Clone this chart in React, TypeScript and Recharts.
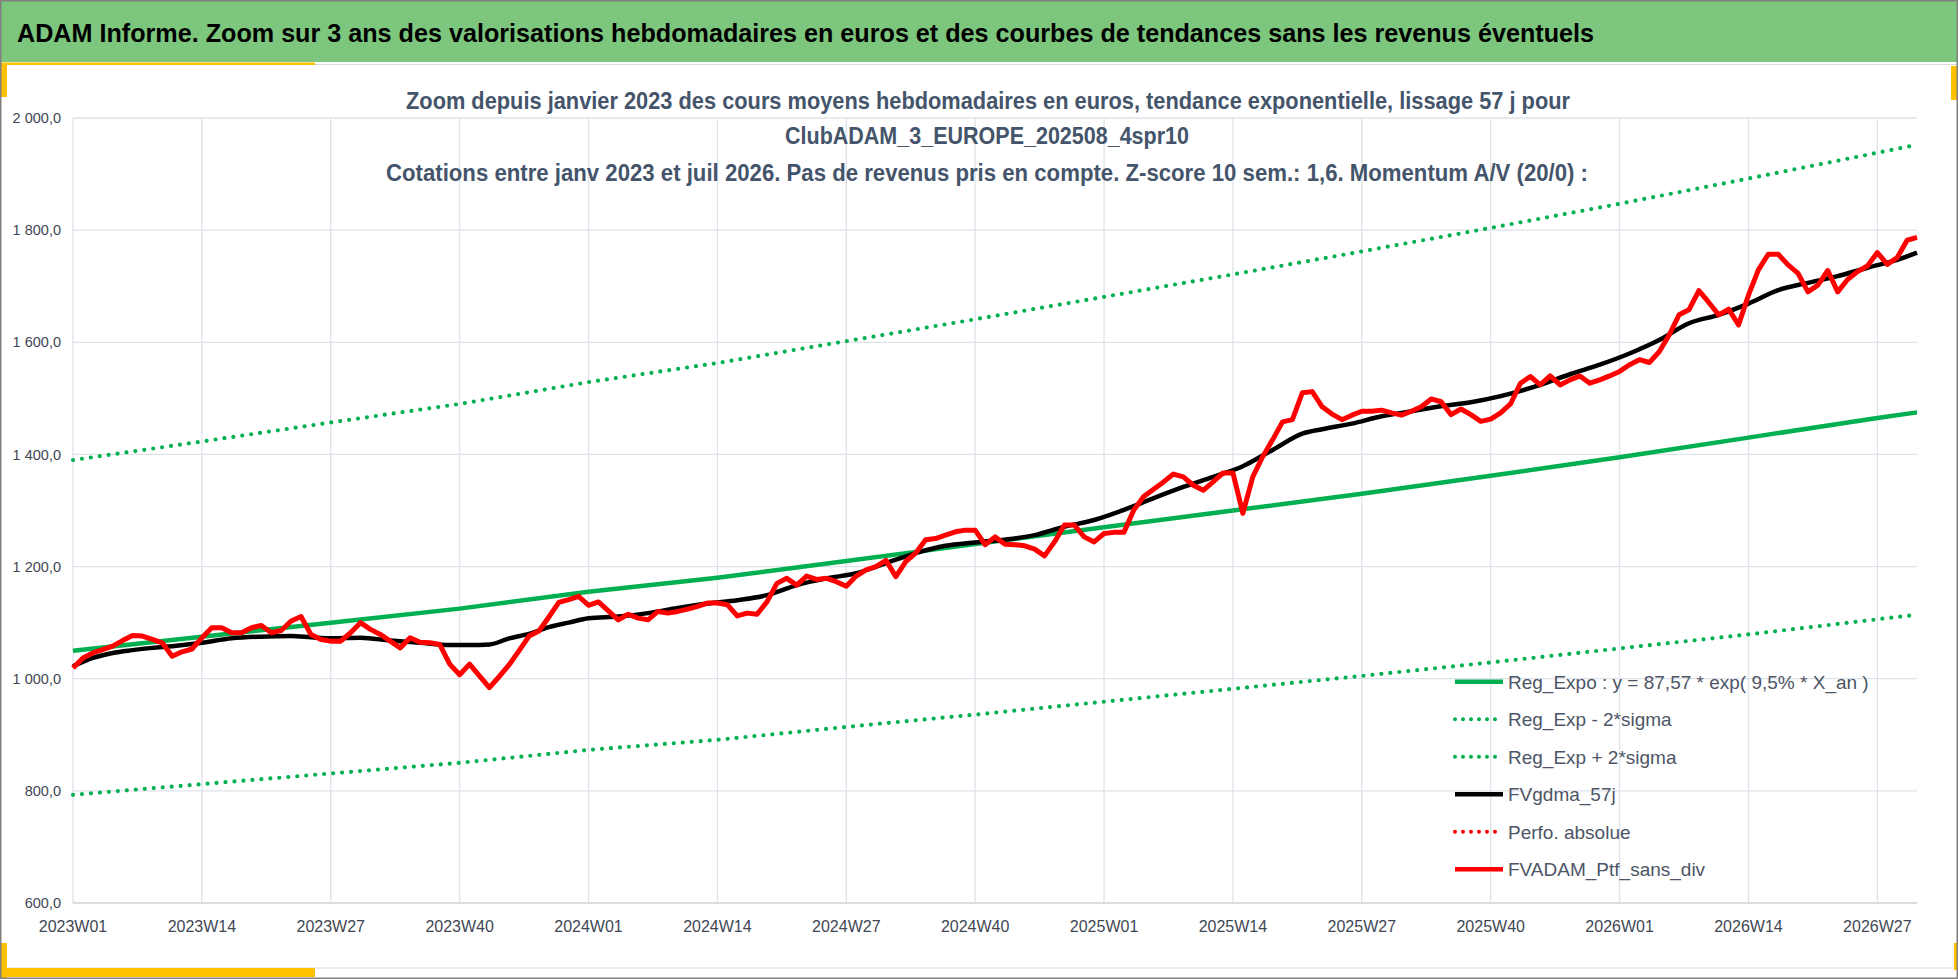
import React from "react";
import { LineChart, Line, XAxis, YAxis, CartesianGrid, Legend } from "recharts";

// ---------- categories ----------
const START_YEAR = 2023;
const WEEKS_PER_YEAR = 52;
const N_WEEKS = 187; // 2023W01 .. 2026W31
const weeks: string[] = Array.from({ length: N_WEEKS }, (_, i) =>
  `${START_YEAR + Math.floor(i / WEEKS_PER_YEAR)}W${String((i % WEEKS_PER_YEAR) + 1).padStart(2, "0")}`
);

const yTicks = [600, 800, 1000, 1200, 1400, 1600, 1800, 2000];

// ---------- series ----------
// FVADAM_Ptf_sans_div : weekly values
const fvadamPtfSansDiv: number[] = [
  1019, 1037, 1046, 1052, 1058, 1068, 1077, 1076, 1070, 1064,
  1040, 1048, 1053, 1073, 1091, 1091, 1082, 1082, 1091, 1095,
  1082, 1086, 1103, 1111, 1079, 1070, 1067, 1067, 1082, 1100,
  1088, 1079, 1067, 1055, 1073, 1065, 1064, 1061, 1026, 1007,
  1026, 1005, 984, 1004, 1025, 1050, 1076, 1085, 1110, 1136,
  1141, 1147, 1131, 1137, 1121, 1105, 1115, 1108, 1105, 1120,
  1117, 1120, 1124, 1129, 1135, 1135, 1132, 1112, 1117, 1115,
  1137, 1170, 1179, 1167, 1183, 1177, 1179, 1173, 1165, 1183,
  1194, 1200, 1211, 1182, 1209, 1224, 1248, 1250, 1256, 1262,
  1265, 1265, 1239, 1253, 1240, 1239, 1237, 1231, 1219, 1244,
  1274, 1274, 1253, 1244, 1259, 1261, 1261, 1301, 1325, 1338,
  1351, 1365, 1360, 1345, 1336, 1351, 1367, 1367, 1295, 1360,
  1396, 1426, 1458, 1462, 1510, 1512, 1485, 1472, 1462, 1470,
  1477, 1477, 1479, 1474, 1470, 1477, 1485, 1499, 1494, 1471,
  1481, 1471, 1459, 1463, 1474, 1490, 1527, 1539, 1524, 1540,
  1524, 1533, 1540, 1527, 1533, 1540, 1548, 1560, 1569, 1564,
  1583, 1613, 1649, 1658, 1692, 1671, 1649, 1659, 1631, 1684,
  1729, 1757, 1757, 1738, 1723, 1690, 1702, 1728, 1690, 1712,
  1726, 1736, 1760, 1739, 1751, 1782, 1787,
];

// FVgdma_57j : [week index, value]
const fvgdma57j: [number, number][] = [
  [0, 1022], [2, 1037], [4, 1046], [6, 1051], [8, 1055], [10, 1058], [13, 1064],
  [16, 1072], [19, 1075], [22, 1076], [24, 1074], [26, 1072], [29, 1073], [32, 1068],
  [35, 1064], [38, 1060], [40, 1060], [42, 1061], [44, 1072], [46, 1080], [48, 1092],
  [50, 1100], [52, 1108], [55, 1111], [58, 1117], [61, 1126], [64, 1134], [67, 1140],
  [70, 1149], [73, 1167], [76, 1179], [79, 1188], [82, 1206], [85, 1224], [88, 1237],
  [91, 1243], [94, 1248], [97, 1256], [100, 1271], [103, 1283], [106, 1301], [109, 1322],
  [112, 1342], [115, 1360], [118, 1379], [121, 1408], [124, 1437], [126, 1445], [129, 1455],
  [132, 1468], [135, 1477], [138, 1486], [141, 1493], [144, 1504], [148, 1524], [151, 1543],
  [154, 1560], [157, 1580], [160, 1604], [163, 1634], [166, 1649], [169, 1669], [172, 1693],
  [175, 1706], [178, 1718], [181, 1733], [184, 1747], [186, 1760],
];

// Reg_Expo : [week index, value]
const regExpo: [number, number][] = [
  [0, 1050], [13, 1075], [26, 1100], [39, 1125], [52, 1155], [65, 1180], [78, 1210],
  [91, 1240], [104, 1270], [117, 1300], [130, 1330], [143, 1362], [156, 1395],
  [169, 1430], [182, 1465], [186, 1475],
];

// Reg_Exp - 2*sigma
const regExpMinus2Sigma: [number, number][] = [
  [0, 793], [13, 812], [26, 831], [39, 850], [52, 873], [65, 891], [78, 914],
  [91, 936], [104, 959], [117, 982], [130, 1005], [143, 1029], [156, 1054],
  [169, 1079], [182, 1106], [186, 1114],
];

// Reg_Exp + 2*sigma
const regExpPlus2Sigma: [number, number][] = [
  [0, 1390], [13, 1423], [26, 1457], [39, 1490], [52, 1529], [65, 1563], [78, 1602],
  [91, 1641], [104, 1681], [117, 1721], [130, 1762], [143, 1804], [156, 1847],
  [169, 1892], [182, 1938], [186, 1952],
];

// Perfo. absolue : no visible values in this window
const perfoAbsolue: [number, number][] = [];

// ---------- table ----------
const lookup = (pts: [number, number][]) => new Map(pts);
const mGdma = lookup(fvgdma57j);
const mReg = lookup(regExpo);
const mLow = lookup(regExpMinus2Sigma);
const mUp = lookup(regExpPlus2Sigma);
const mPerfo = lookup(perfoAbsolue);

const data = weeks.map((week, i) => ({
  week,
  regExpo: mReg.get(i) ?? null,
  low: mLow.get(i) ?? null,
  up: mUp.get(i) ?? null,
  gdma: mGdma.get(i) ?? null,
  perfo: mPerfo.get(i) ?? null,
  ptf: fvadamPtfSansDiv[i] ?? null,
}));

// ---------- styles ----------
const GREEN = "#00B050";
const RED = "#FF0000";
const GRID = "#DEE2E9";
const TEXT = "#44546A";
const TICK = "#3F4754";
const YELLOW = "#FFC000";

const legendOrder = ["regExpo", "low", "up", "gdma", "perfo", "ptf"];
const legendStyle: Record<string, { color: string; dotted: boolean }> = {
  regExpo: { color: GREEN, dotted: false },
  low: { color: GREEN, dotted: true },
  up: { color: GREEN, dotted: true },
  gdma: { color: "#000000", dotted: false },
  perfo: { color: RED, dotted: true },
  ptf: { color: RED, dotted: false },
};

const fmtY = (v: number) => {
  if (v >= 1000) {
    const th = Math.floor(v / 1000);
    const rest = String(v % 1000).padStart(3, "0");
    return `${th} ${rest},0`;
  }
  return `${v},0`;
};

const renderLegend = (props: any) => {
  const payload = [...(props.payload || [])].sort(
    (a: any, b: any) => legendOrder.indexOf(a.dataKey) - legendOrder.indexOf(b.dataKey)
  );
  return (
    <svg width={480} height={230} style={{ display: "block", overflow: "visible", position: "absolute", left: 0, top: 0 }}>
      {payload.map((p: any, k: number) => {
        const st = legendStyle[p.dataKey] || { color: p.color, dotted: false };
        const cy = 21.7 + k * 37.5;
        return (
          <g key={k}>
            <line
              x1={15}
              x2={63}
              y1={cy}
              y2={cy}
              stroke={st.color}
              strokeWidth={st.dotted ? 4 : 4.5}
              strokeDasharray={st.dotted ? "0 8" : undefined}
              strokeLinecap={st.dotted ? "round" : "butt"}
            />
            <text
              x={68}
              y={cy}
              dy="0.36em"
              fontSize={19}
              fill="#4D5566"
              fontFamily='"Liberation Sans", Arial, sans-serif'
            >
              {p.value}
            </text>
          </g>
        );
      })}
    </svg>
  );
};

export default function App() {
  return (
    <div
      style={{
        position: "absolute",
        left: 0,
        top: 0,
        width: 1958,
        height: 979,
        background: "#ffffff",
        overflow: "hidden",
        fontFamily: '"Liberation Sans", Arial, sans-serif',
      }}
    >
      <div style={{ position: "absolute", left: 0, top: 0 }}>
        <LineChart
          width={1958}
          height={979}
          data={data}
          margin={{ top: 118, right: 41, bottom: 36, left: 0 }}
        >
          <CartesianGrid stroke={GRID} strokeWidth={1.3} syncWithTicks />
          <XAxis
            dataKey="week"
            interval={12}
            height={40}
            tickLine={false}
            tickSize={6}
            tickMargin={12}
            axisLine={{ stroke: "#D9D9D9", strokeWidth: 1.5 }}
            tick={{ fill: TICK, fontSize: 16 }}
          />
          <YAxis
            domain={[600, 2000]}
            ticks={yTicks}
            width={73}
            axisLine={false}
            tickLine={false}
            tickMargin={6}
            tickFormatter={fmtY}
            tick={{ fill: TICK, fontSize: 14.5 }}
          />
          <Line
            dataKey="regExpo"
            name="Reg_Expo : y = 87,57 * exp( 9,5% *  X_an )"
            stroke={GREEN}
            strokeWidth={4.5}
            dot={false}
            connectNulls
            strokeLinejoin="round"
            isAnimationActive={false}
          />
          <Line
            dataKey="low"
            name="Reg_Exp - 2*sigma"
            stroke={GREEN}
            strokeWidth={4.2}
            strokeDasharray="0 9"
            strokeLinecap="round"
            dot={false}
            connectNulls
            isAnimationActive={false}
          />
          <Line
            dataKey="up"
            name="Reg_Exp + 2*sigma"
            stroke={GREEN}
            strokeWidth={4.2}
            strokeDasharray="0 9"
            strokeLinecap="round"
            dot={false}
            connectNulls
            isAnimationActive={false}
          />
          <Line
            dataKey="gdma"
            name="FVgdma_57j"
            stroke="#000000"
            strokeWidth={4.5}
            dot={false}
            connectNulls
            type="monotone"
            strokeLinejoin="round"
            isAnimationActive={false}
          />
          <Line
            dataKey="perfo"
            name="Perfo. absolue"
            stroke={RED}
            strokeWidth={4}
            strokeDasharray="0 9"
            strokeLinecap="round"
            dot={false}
            isAnimationActive={false}
          />
          <Line
            dataKey="ptf"
            name="FVADAM_Ptf_sans_div"
            stroke={RED}
            strokeWidth={5}
            dot={false}
            strokeLinejoin="round"
            isAnimationActive={false}
          />
          <Legend
            content={renderLegend}
            wrapperStyle={{ position: "absolute", left: 1440, top: 660, width: 0, height: 0, overflow: "visible" }}
          />
        </LineChart>
      </div>

      <svg
        width={1958}
        height={979}
        style={{ position: "absolute", left: 0, top: 0, pointerEvents: "none" }}
      >
        {/* header band */}
        <rect x={0} y={0} width={1958} height={62} fill="#7CC67D" />
        <line x1={0} x2={1958} y1={64.5} y2={64.5} stroke="#D9D9D9" strokeWidth={1} />
        <rect x={0} y={62.5} width={315} height={2.5} fill={YELLOW} />
        <rect x={0} y={64} width={7} height={33} fill={YELLOW} />
        <rect x={1951} y={66} width={7} height={34} fill={YELLOW} />
        {/* bottom decorations */}
        <line x1={7} x2={1953} y1={968} y2={968} stroke="#D9D9D9" strokeWidth={1.2} />
        <rect x={0} y={943} width={7} height={35} fill={YELLOW} />
        <rect x={0} y={968} width={315} height={9} fill={YELLOW} />
        <rect x={1954} y={943} width={4} height={27} fill={YELLOW} />
        {/* outer border */}
        <rect x={0.75} y={0.75} width={1956.5} height={977.5} fill="none" stroke="#808080" strokeWidth={1.5} />

        {/* header title */}
        <text
          x={17}
          y={42}
          fontSize={26}
          fontWeight="bold"
          fill="#000000"
          textLength={1577}
          lengthAdjust="spacingAndGlyphs"
        >
          ADAM Informe. Zoom sur 3 ans des valorisations hebdomadaires en euros et des courbes de tendances sans les revenus éventuels
        </text>

        {/* chart title */}
        <text
          x={988}
          y={109}
          textAnchor="middle"
          fontSize={23}
          fontWeight="bold"
          fill={TEXT}
          textLength={1164}
          lengthAdjust="spacingAndGlyphs"
        >
          Zoom depuis janvier 2023 des cours moyens hebdomadaires  en euros, tendance exponentielle, lissage 57 j pour
        </text>
        <text
          x={987}
          y={144}
          textAnchor="middle"
          fontSize={23}
          fontWeight="bold"
          fill={TEXT}
          textLength={404}
          lengthAdjust="spacingAndGlyphs"
        >
          ClubADAM_3_EUROPE_202508_4spr10
        </text>
        <text
          x={987}
          y={181}
          textAnchor="middle"
          fontSize={23}
          fontWeight="bold"
          fill={TEXT}
          textLength={1202}
          lengthAdjust="spacingAndGlyphs"
        >
          Cotations entre janv 2023 et juil 2026. Pas de revenus pris en compte. Z-score 10 sem.: 1,6. Momentum  A/V (20/0) :
        </text>
      </svg>
    </div>
  );
}
